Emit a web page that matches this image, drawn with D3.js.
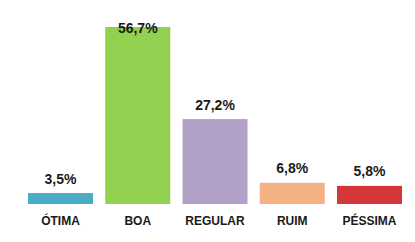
<!DOCTYPE html>
<html><head><meta charset="utf-8">
<script src="https://cdn.jsdelivr.net/npm/d3@7"></script>
<style>
html,body{margin:0;padding:0;background:#fff;}
svg{display:block;}
text{font-family:"Liberation Sans Narrow","Arial Narrow","Liberation Sans",Arial,sans-serif;font-weight:bold;fill:#1a1a1a;}
</style></head>
<body>
<script>
const categories = ["ÓTIMA", "BOA", "REGULAR", "RUIM", "PÉSSIMA"];
const values = [3.5, 56.7, 27.2, 6.8, 5.8];
const valueLabels = ["3,5%", "56,7%", "27,2%", "6,8%", "5,8%"];
const colors = ["#4BACC6", "#92D050", "#B1A0C7", "#F4B183", "#D4373A"];

const W = 415, H = 242;
const svg = d3.select("body").append("svg").attr("width", W).attr("height", H);

const step = 77.25, bw = 65;
const x = d3.scaleBand().domain(categories)
  .range([28 - (step - bw) / 2, 402 + (step - bw) / 2])
  .paddingInner((step - bw) / step).paddingOuter((step - bw) / step / 2);
const y = d3.scaleLinear().domain([0, 56.7]).range([204, 27]);

const data = categories.map((c, i) => ({c, v: values[i], l: valueLabels[i], col: colors[i]}));

svg.selectAll("rect.bar").data(data).enter().append("rect")
  .attr("class", "bar")
  .attr("x", d => x(d.c)).attr("width", x.bandwidth())
  .attr("y", d => y(d.v)).attr("height", d => y(0) - y(d.v))
  .attr("fill", d => d.col);

svg.selectAll("text.val").data(data).enter().append("text")
  .attr("class", "val")
  .attr("x", d => x(d.c) + x.bandwidth() / 2)
  .attr("y", d => Math.max(y(d.v) - 9.5, 32.5))
  .attr("text-anchor", "middle")
  .style("font-size", "14px")
  .text(d => d.l);

const xAxis = d3.axisBottom(x).tickSize(0).tickPadding(0);
const gx = svg.append("g").attr("transform", "translate(0,216)").call(xAxis);
gx.select(".domain").remove();
gx.selectAll("text").attr("dy", "0.71em").style("font-size", "12px")
  .style("font-family", null).attr("fill", "#1a1a1a");
gx.attr("font-family", null).attr("font-size", null);
</script>
</body></html>
